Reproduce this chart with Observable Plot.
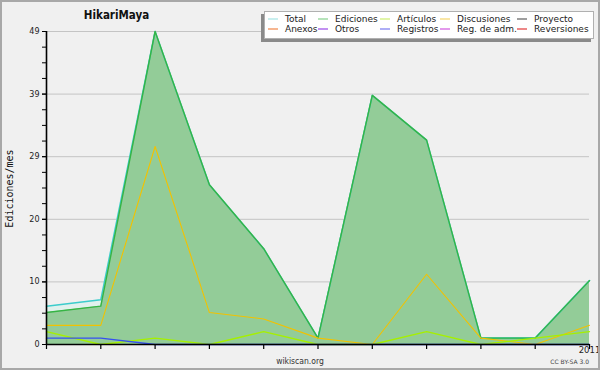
<!DOCTYPE html>
<html>
<head>
<meta charset="utf-8">
<script src="https://cdn.jsdelivr.net/npm/d3@7"></script>
<script src="https://cdn.jsdelivr.net/npm/@observablehq/plot@0.6"></script>
<style>
  html, body { margin: 0; padding: 0; background: #f0f0f0; }
  svg { display: block; }
</style>
</head>
<body>
<div id="chart"></div>
<script>
// ---- data ----
const months = ["2010-03","2010-04","2010-05","2010-06","2010-07","2010-08","2010-09","2010-10","2010-11","2010-12","2011-01"];
const total       = [6, 7, 49, 25, 15, 1, 39, 32, 1, 1, 10];
const ediciones   = [5, 6, 49, 25, 15, 1, 39, 32, 1, 1, 10];
const articulos   = [2, 0, 1, 0, 2, 0, 0, 2, 0, 1, 2];
const discusiones = [3, 3, 31, 5, 4, 1, 0, 11, 1, 0, 3];
const registros   = [1, 1, 0, 0, 0, 0, 0, 0, 0, 0, 0];
const yTicks      = [0, 9.8, 19.6, 29.4, 39.2, 49];
const yTickLabels = ["0", "10", "20", "29", "39", "49"];
const legendNames  = ["Total","Ediciones","Artículos","Discusiones","Proyecto","Anexos","Otros","Registros","Reg. de adm.","Reversiones"];
const legendColors = ["#a6e4e4","#86d08c","#cdef70","#f6d56c","#606060","#f08648","#9a48e8","#7878f0","#d058e0","#e23a3a"];

const data = months.map((m, i) => ({
  i, month: m,
  total: total[i], ediciones: ediciones[i], articulos: articulos[i],
  discusiones: discusiones[i], registros: registros[i]
}));
const minorTicks = d3.range(0, 49.001, 49 / 20);

const svg = Plot.plot({
  width: 600,
  height: 370,
  marginLeft: 46,
  marginRight: 11,
  marginTop: 31,
  marginBottom: 26,
  style: { background: "#f0f0f0", fontFamily: "DejaVu Sans", color: "#222", overflow: "visible" },
  x: { domain: [0, months.length - 1], label: null },
  y: { domain: [0, 49], label: null },
  marks: [
    Plot.gridY(yTicks.filter(d => d > 0), { stroke: "#c4c4c4", strokeOpacity: 1, strokeWidth: 1 }),
    Plot.areaY(data, { x: "i", y: "total", fill: "#e0f1ed" }),
    Plot.areaY(data, { x: "i", y: "ediciones", fill: "#93cc98" }),
    Plot.lineY(data, { x: "i", y: "total", stroke: "#3ccccc", strokeWidth: 1.5 }),
    Plot.lineY(data, { x: "i", y: "ediciones", stroke: "#36b444", strokeWidth: 1.4 }),
    Plot.lineY(data, { x: "i", y: "discusiones", stroke: "#f2c200", strokeWidth: 1.1 }),
    Plot.lineY(data, { x: "i", y: "articulos", stroke: "#a6f000", strokeWidth: 1.3 }),
    Plot.lineY(data, { x: "i", y: "registros", stroke: "#3650f0", strokeWidth: 1.4 }),
    Plot.axisY({ ticks: minorTicks, tickFormat: () => "", tickSize: 4, stroke: "#000", strokeWidth: 1 }),
    Plot.axisY({ ticks: yTicks, tickFormat: d => yTickLabels[yTicks.indexOf(d)], tickSize: 4, tickPadding: 3, fontSize: 8, fill: "#222", stroke: "#000", strokeWidth: 1 }),
    Plot.axisX({ ticks: d3.range(months.length), tickFormat: i => months[i].endsWith("-01") ? months[i].slice(0, 4) : "", tickSize: 5, tickPadding: -3, fontSize: 8.5, fill: "#222", stroke: "#000", strokeWidth: 1.2 }),
    Plot.ruleX([0], { stroke: "#000", strokeWidth: 1.6 }),
    Plot.ruleY([0], { stroke: "#000", strokeWidth: 1.6 })
  ]
});

const s = d3.select(svg);
// border
s.append("rect").attr("x", 1).attr("y", 1).attr("width", 598).attr("height", 368)
  .attr("fill", "none").attr("stroke", "#a8a8a8").attr("stroke-width", 2);

// title
s.append("text").attr("x", 116.5).attr("y", 18.5).attr("text-anchor", "middle")
  .style("font-family", "'DejaVu Sans Condensed', 'DejaVu Sans'").style("font-stretch", "condensed")
  .style("font-weight", "bold").style("font-size", "11.5px").attr("fill", "#111").text("HikariMaya");

// y label
s.append("text").attr("transform", "translate(10,188.5) rotate(-90)").attr("text-anchor", "middle")
  .attr("dominant-baseline", "middle")
  .style("font-family", "'DejaVu Sans Mono'").style("font-size", "10px").attr("fill", "#111").text("Ediciones/mes");

// footer
s.append("text").attr("x", 300).attr("y", 363.5).attr("text-anchor", "middle")
  .style("font-family", "'DejaVu Sans Condensed', 'DejaVu Sans'").style("font-stretch", "condensed")
  .style("font-size", "8.5px").attr("fill", "#333").text("wikiscan.org");
s.append("text").attr("x", 589).attr("y", 364).attr("text-anchor", "end")
  .style("font-family", "'DejaVu Sans'").style("font-size", "6px").attr("fill", "#444").text("CC BY-SA 3.0");

// legend
const lg = s.append("g").attr("text-anchor", "start");
lg.append("rect").attr("x", 261).attr("y", 14).attr("width", 330).attr("height", 28).attr("fill", "#8a8a8a");
lg.append("rect").attr("x", 264.5).attr("y", 11.5).attr("width", 329).attr("height", 27)
  .attr("fill", "#fff").attr("stroke", "#b0b0b0").attr("stroke-width", 1);
const colX = [268, 318, 380, 440, 517];
legendNames.forEach((name, k) => {
  const col = k % 5, row = Math.floor(k / 5);
  const x = colX[col], y = 19 + row * 10;
  lg.append("line").attr("x1", x).attr("x2", x + 10).attr("y1", y).attr("y2", y)
    .attr("stroke", legendColors[k]).attr("stroke-width", 1.2);
  lg.append("text").attr("x", x + 17).attr("y", y + 3.3).attr("text-anchor", "start")
    .style("font-family", "'DejaVu Sans'").style("font-size", "9px").attr("fill", "#222").text(name);
});

document.getElementById("chart").appendChild(svg);
</script>
</body>
</html>
